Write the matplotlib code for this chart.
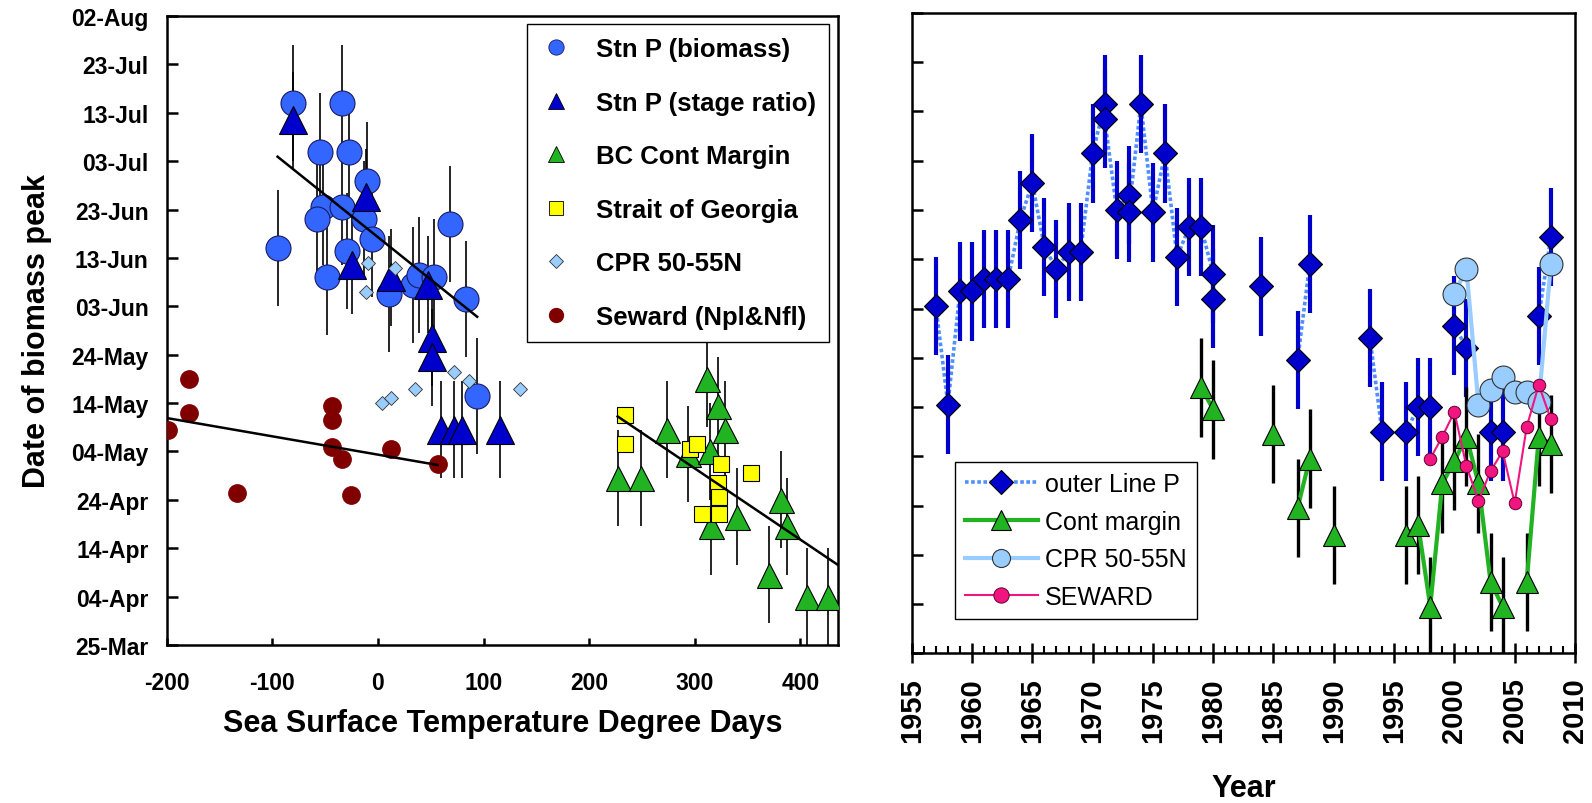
import numpy as np
import matplotlib
matplotlib.use("Agg")
import matplotlib.pyplot as plt
from matplotlib.lines import Line2D
from matplotlib.ticker import MultipleLocator

plt.rcParams["font.family"] = ["Liberation Sans", "DejaVu Sans"]

# --- shared y axis: day of year (non-leap year) ---
date_ticks = [84, 94, 104, 114, 124, 134, 144, 154, 164, 174, 184, 194, 204, 214]
date_labels = ["25-Mar", "04-Apr", "14-Apr", "24-Apr", "04-May", "14-May", "24-May",
               "03-Jun", "13-Jun", "23-Jun", "03-Jul", "13-Jul", "23-Jul", "02-Aug"]

# --- left panel: SST degree days vs date of biomass peak ---
sst_ticks = [-200, -100, 0, 100, 200, 300, 400]

stnp_bio_sst = [-80, -34, -55, -27, -10, -52, -58, -34, -13, 68, -95, -48.5, -29, -5.5,
                10.5, 33, 39, 53.5, 83, 94]
stnp_bio_day = [196, 196, 186, 186, 180, 174.5, 172, 174.5, 172, 171, 166, 160, 165.5, 168,
                156.5, 158.5, 160.5, 160, 155.5, 135.5]
stnp_bio_err = 12

stnp_stage_sst = [-80.5, -11, -24.5, 12, 47, 51, 51, 60, 72, 80, 116]
stnp_stage_day = [192.5, 176.5, 162.5, 160, 158.5, 147.5, 143.5, 128.5, 128.5, 128.5, 128.5]
stnp_stage_err = 10

bc_sst = [227, 249.5, 273.5, 293.5, 312, 322, 329, 314.5, 315, 340, 382, 387, 370.5, 406, 426]
bc_day = [118.5, 118.5, 128.5, 123.5, 139, 133.5, 128.5, 124, 108.5, 110.5, 114, 108.5,
          98.5, 94, 94]
bc_err = 10

sog_sst = [234, 234, 296, 302.5, 324.5, 353, 322, 323, 307, 323]
sog_day = [131.5, 125.5, 124.5, 125.5, 121.5, 119.5, 117.5, 114.5, 111, 111]

cpr_sst = [-9.5, 16, -11, 3.5, 12, 35.5, 72, 86.5, 135]
cpr_sst_day = [163, 162, 157, 134, 135, 137, 140.5, 138.5, 137]

seward_sst = [-198.5, -178.5, -178.5, -133.5, -43.5, -43.5, -43, -34, -25.5, 12, 56.5]
seward_sst_day = [128.5, 139, 132, 115.5, 133.5, 130.5, 125, 122.5, 115, 124.5, 121.5]

# --- right panel: time series ---
year_ticks = list(range(1955, 2011, 5))

linep_year = [1957, 1958, 1959, 1960, 1961, 1962, 1963, 1964, 1965, 1966, 1967, 1968, 1969,
              1970, 1971, 1971, 1972, 1973, 1973, 1974, 1975, 1976, 1977, 1978, 1979, 1980,
              1980, 1984, 1987, 1988, 1993, 1994, 1996, 1997, 1998, 2000, 2001, 2003, 2004,
              2007, 2008]
linep_day = [154.5, 134.5, 157.5, 157.5, 160, 160, 160, 172, 179.5, 166.5, 162, 165.5, 165.5,
             185.5, 195.5, 192.5, 174, 177, 173.5, 195.5, 173.5, 185.5, 164.5, 170.5, 170.5,
             161, 156, 158.5, 143.5, 163, 148, 129, 129, 134, 134, 150.5, 146, 129, 129,
             152.5, 168.5]
linep_err = 10

cont_year = [1979, 1980, 1985, 1987, 1988, 1990, 1996, 1997, 1998, 1999, 2000, 2001, 2002,
             2003, 2004, 2006, 2007, 2008]
cont_day = [138, 133.5, 128.5, 113.5, 123.5, 108, 108, 110, 93.5, 118.5, 123, 128, 118.5,
            98.5, 93.5, 98.5, 128, 126.5]
cont_err = 10

cpr_year = [2000, 2001, 2002, 2003, 2004, 2005, 2006, 2007, 2008]
cpr_day = [157, 162, 134.5, 137.5, 140, 137, 137, 135, 163]

seward_year = [1998, 1999, 2000, 2001, 2002, 2003, 2004, 2005, 2006, 2007, 2008]
seward_day = [123.5, 128, 133, 122, 115, 121, 125, 114.5, 130, 138.5, 131.5]

C_BIO = "#3366FF"
C_STAGE = "#0000CC"
C_GREEN = "#22B322"
C_YEL = "#FFFF00"
C_CPR = "#99CCFF"
C_SEW = "#800000"
C_PINK = "#F0157F"


def break_gaps(xs, ys):
    # NaN between non-consecutive years so the line is not drawn across gaps
    ox, oy = [], []
    for i, (x, y) in enumerate(zip(xs, ys)):
        if i and x - xs[i - 1] > 1:
            ox.append(np.nan); oy.append(np.nan)
        ox.append(x); oy.append(y)
    return ox, oy


def fit_line(ax, x, y, x_end=None):
    k, b = np.polyfit(x, y, 1)
    xx = np.array([min(x), max(x) if x_end is None else x_end])
    ax.plot(xx, k * xx + b, color="black", lw=1.8, zorder=6)


fig = plt.figure(figsize=(15.92, 8.04), dpi=100)

# ================= left panel =================
ax1 = fig.add_axes([0.1047, 0.1965, 0.4219, 0.7823])
ek = dict(fmt="none", ecolor="black", elinewidth=1.2, capsize=0, zorder=2)
ax1.errorbar(stnp_bio_sst, stnp_bio_day, yerr=stnp_bio_err, **ek)
ax1.errorbar(stnp_stage_sst, stnp_stage_day, yerr=stnp_stage_err, **ek)
ax1.errorbar(bc_sst, bc_day, yerr=bc_err, **ek)

ax1.plot(stnp_bio_sst, stnp_bio_day, "o", ms=18, mfc=C_BIO, mec="#1a1a66", mew=0.8, zorder=3)
ax1.plot(stnp_stage_sst, stnp_stage_day, "^", ms=20, mfc=C_STAGE, mec="black", mew=0.8, zorder=4)
ax1.plot(bc_sst, bc_day, "^", ms=18, mfc=C_GREEN, mec="black", mew=0.8, zorder=3)
ax1.plot(sog_sst, sog_day, "s", ms=12, mfc=C_YEL, mec="black", mew=0.8, zorder=4)
ax1.plot(cpr_sst, cpr_sst_day, "D", ms=7.5, mfc=C_CPR, mec="#333333", mew=0.6, zorder=5)
ax1.plot(seward_sst, seward_sst_day, "o", ms=12.5, mfc=C_SEW, mec=C_SEW, zorder=4)

fit_line(ax1, stnp_bio_sst, stnp_bio_day)
fit_line(ax1, seward_sst, seward_sst_day)
fit_line(ax1, bc_sst + sog_sst, bc_day + sog_day, x_end=436)

ax1.set_xlim(-200, 436)
ax1.set_ylim(84, 214)
ax1.set_xticks(sst_ticks)
ax1.set_xticklabels([str(t) for t in sst_ticks], fontweight="bold", fontsize=16.5)
ax1.set_yticks(date_ticks)
ax1.set_yticklabels(date_labels, fontweight="bold", fontsize=16.5)
ax1.tick_params(axis="x", direction="in", length=5, width=1.8, pad=19)
ax1.tick_params(axis="y", direction="in", length=7.7, width=1.8, pad=13)
for s in ax1.spines.values():
    s.set_linewidth(1.8)
ax1.set_xlabel("Sea Surface Temperature Degree Days", fontsize=22, fontweight="bold", labelpad=10)
ax1.set_ylabel("Date of biomass peak", fontsize=22, fontweight="bold", labelpad=14)

h1 = [Line2D([], [], ls="none", marker="o", ms=11, mfc=C_BIO, mec="#1a1a66", mew=0.6),
      Line2D([], [], ls="none", marker="^", ms=11, mfc=C_STAGE, mec="black", mew=0.6),
      Line2D([], [], ls="none", marker="^", ms=11, mfc=C_GREEN, mec="black", mew=0.6),
      Line2D([], [], ls="none", marker="s", ms=10, mfc=C_YEL, mec="black", mew=0.6),
      Line2D([], [], ls="none", marker="D", ms=7.5, mfc=C_CPR, mec="#333333", mew=0.6),
      Line2D([], [], ls="none", marker="o", ms=10, mfc=C_SEW, mec=C_SEW)]
l1 = ["Stn P (biomass)", "Stn P (stage ratio)", "BC Cont Margin", "Strait of Georgia",
      "CPR 50-55N", "Seward (Npl&Nfl)"]
leg1 = ax1.legend(h1, l1, loc="upper left", bbox_to_anchor=(0.536, 0.987),
                  prop={"weight": "bold", "size": 18.5}, labelspacing=1.15, handlelength=1.3,
                  handletextpad=0.9, borderpad=0.5, borderaxespad=0, fancybox=False,
                  edgecolor="black", framealpha=1)
leg1.get_frame().set_linewidth(1.0)
leg1.set_zorder(10)

# ================= right panel =================
ax2 = fig.add_axes([0.5727, 0.1862, 0.4166, 0.7964])

lx, ly = break_gaps(linep_year, linep_day)
ax2.plot(lx, ly, ls=(0, (1, 0.7)), color="#4F8FFF", lw=2.6, zorder=2)
ax2.errorbar(linep_year, linep_day, yerr=linep_err, fmt="none", ecolor=C_STAGE,
             elinewidth=3, capsize=0, zorder=3)
ax2.plot(linep_year, linep_day, "D", ms=12.5, mfc=C_STAGE, mec="black", mew=0.8, zorder=4)

ax2.errorbar(cont_year, cont_day, yerr=cont_err, fmt="none", ecolor="black",
             elinewidth=2.4, capsize=0, zorder=5)
cx, cy = break_gaps(cont_year, cont_day)
ax2.plot(cx, cy, color=C_GREEN, lw=3, zorder=5)
ax2.plot(cont_year, cont_day, "^", ms=16.5, mfc=C_GREEN, mec="black", mew=0.8, zorder=6)

ax2.plot(cpr_year, cpr_day, color=C_CPR, lw=3, zorder=7)
ax2.plot(cpr_year, cpr_day, "o", ms=16.5, mfc=C_CPR, mec="#333333", mew=0.8, zorder=7)

ax2.plot(seward_year, seward_day, color=C_PINK, lw=1.5, zorder=8)
ax2.plot(seward_year, seward_day, "o", ms=9, mfc=C_PINK, mec="#660033", mew=0.7, zorder=8)

ax2.set_xlim(1955, 2010)
ax2.set_ylim(84, 214)
ax2.set_xticks(year_ticks)
ax2.set_xticklabels([str(t) for t in year_ticks], rotation=90, fontweight="bold", fontsize=21)
ax2.xaxis.set_minor_locator(MultipleLocator(1))
ax2.set_yticks(date_ticks)
ax2.set_yticklabels([])
ax2.tick_params(axis="x", which="major", direction="inout", length=15, width=1.8, pad=10)
ax2.tick_params(axis="x", which="minor", direction="in", length=5, width=1.5)
ax2.tick_params(axis="y", direction="in", length=8, width=1.8)
for s in ax2.spines.values():
    s.set_linewidth(1.8)
ax2.set_xlabel("Year", fontsize=22, fontweight="bold", labelpad=22)

h2 = [Line2D([], [], ls=(0, (1, 0.7)), color="#4F8FFF", lw=2.6, marker="D", ms=12,
             mfc=C_STAGE, mec="black", mew=0.8),
      Line2D([], [], color=C_GREEN, lw=3, marker="^", ms=15, mfc=C_GREEN, mec="black", mew=0.8),
      Line2D([], [], color=C_CPR, lw=3, marker="o", ms=13, mfc=C_CPR, mec="#333333", mew=0.8),
      Line2D([], [], color=C_PINK, lw=1.5, marker="o", ms=11, mfc=C_PINK, mec="#660033", mew=0.7)]
l2 = ["outer Line P", "Cont margin", "CPR 50-55N", "SEWARD"]
leg2 = ax2.legend(h2, l2, loc="upper left", bbox_to_anchor=(0.0653, 0.2988), fontsize=18,
                  labelspacing=0.55, handlelength=2.9, handletextpad=0.3, borderpad=0.4,
                  borderaxespad=0, fancybox=False, edgecolor="black", framealpha=1)
leg2.get_frame().set_linewidth(1.0)
leg2.set_zorder(10)

fig.savefig("out.png", dpi=100)
